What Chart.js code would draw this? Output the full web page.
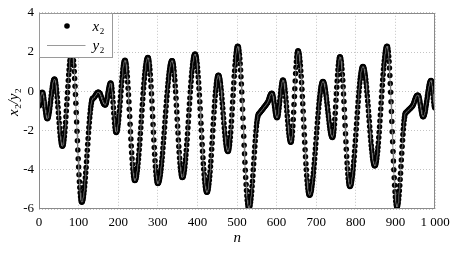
<!DOCTYPE html>
<html><head><meta charset="utf-8">
<script src="https://cdn.jsdelivr.net/npm/chart.js@4"></script>
<style>html,body{margin:0;padding:0;background:#fff}</style>
</head><body><canvas id="c" width="460" height="257"></canvas>
<script>
// x2 samples for n = 0..1000
const x2 = [
-0.75,-0.72,-0.65,-0.53,-0.40,-0.27,-0.15,-0.08,-0.05,
-0.07,-0.13,-0.22,-0.34,-0.49,-0.64,-0.81,-0.96,-1.11,-1.23,-1.32,-1.38,-1.40,
-1.38,-1.34,-1.26,-1.16,-1.04,-0.90,-0.74,-0.57,-0.39,-0.21,-0.04,0.12,0.26,0.38,0.48,0.56,0.60,0.62,
0.60,0.54,0.43,0.29,0.12,-0.08,-0.31,-0.56,-0.82,-1.09,-1.36,-1.62,-1.87,-2.10,-2.30,-2.47,-2.61,-2.70,-2.78,-2.80,
-2.78,-2.72,-2.62,-2.48,-2.30,-2.09,-1.85,-1.59,-1.30,-1.00,-0.69,-0.38,-0.06,0.25,0.55,0.84,1.10,1.34,1.55,1.73,1.87,1.97,2.03,2.05,
2.02,1.93,1.78,1.57,1.31,1.01,0.65,0.26,-0.16,-0.61,-1.08,-1.56,-2.04,-2.52,-2.99,-3.44,-3.86,-4.25,-4.61,-4.91,-5.17,-5.38,-5.53,-5.62,-5.65,
-5.63,-5.58,-5.50,-5.39,-5.24,-5.07,-4.87,-4.65,-4.41,-4.15,-3.88,-3.59,-3.30,-3.00,-2.70,-2.41,-2.12,-1.85,-1.59,-1.35,-1.13,-0.93,-0.76,-0.61,-0.50,-0.42,-0.37,-0.35,
-0.35,-0.34,-0.32,-0.29,-0.27,-0.23,-0.20,-0.17,-0.13,-0.11,-0.08,-0.06,-0.05,-0.05,
-0.06,-0.07,-0.10,-0.13,-0.18,-0.23,-0.29,-0.35,-0.40,-0.46,-0.52,-0.57,-0.62,-0.65,-0.68,-0.69,-0.70,
-0.69,-0.64,-0.58,-0.49,-0.38,-0.26,-0.14,-0.02,0.10,0.21,0.30,0.36,0.41,0.42,
0.39,0.30,0.15,-0.05,-0.29,-0.56,-0.84,-1.12,-1.39,-1.63,-1.83,-1.98,-2.07,-2.10,
-2.08,-2.03,-1.93,-1.81,-1.65,-1.46,-1.25,-1.02,-0.78,-0.52,-0.26,0.00,0.26,0.50,0.73,0.94,1.13,1.29,1.41,1.51,1.56,1.58,
1.56,1.48,1.36,1.20,0.99,0.75,0.47,0.16,-0.18,-0.54,-0.91,-1.29,-1.68,-2.06,-2.43,-2.79,-3.13,-3.44,-3.72,-3.96,-4.17,-4.33,-4.45,-4.53,-4.55,
-4.54,-4.49,-4.42,-4.33,-4.20,-4.05,-3.88,-3.68,-3.47,-3.23,-2.98,-2.72,-2.44,-2.15,-1.86,-1.56,-1.27,-0.97,-0.68,-0.39,-0.11,0.15,0.40,0.64,0.85,1.05,1.22,1.37,1.50,1.59,1.66,1.71,1.72,
1.70,1.62,1.49,1.32,1.11,0.85,0.56,0.23,-0.12,-0.50,-0.89,-1.29,-1.69,-2.09,-2.48,-2.86,-3.21,-3.54,-3.83,-4.09,-4.30,-4.47,-4.60,-4.68,-4.70,
-4.69,-4.65,-4.59,-4.51,-4.41,-4.28,-4.13,-3.97,-3.78,-3.58,-3.37,-3.14,-2.89,-2.64,-2.38,-2.11,-1.84,-1.57,-1.30,-1.03,-0.76,-0.50,-0.25,-0.01,0.23,0.44,0.64,0.83,0.99,1.14,1.27,1.37,1.45,1.51,1.55,1.56,
1.54,1.47,1.37,1.22,1.03,0.81,0.56,0.27,-0.03,-0.36,-0.71,-1.06,-1.42,-1.78,-2.13,-2.48,-2.81,-3.11,-3.40,-3.65,-3.87,-4.06,-4.21,-4.31,-4.38,-4.40,
-4.38,-4.34,-4.26,-4.16,-4.03,-3.87,-3.68,-3.48,-3.25,-3.00,-2.73,-2.46,-2.16,-1.86,-1.56,-1.25,-0.94,-0.64,-0.34,-0.04,0.23,0.50,0.75,0.98,1.18,1.37,1.53,1.66,1.76,1.84,1.88,1.90,
1.88,1.82,1.73,1.60,1.43,1.23,0.99,0.73,0.45,0.14,-0.19,-0.54,-0.89,-1.26,-1.63,-1.99,-2.36,-2.71,-3.06,-3.39,-3.70,-3.98,-4.24,-4.48,-4.68,-4.85,-4.98,-5.07,-5.13,-5.15,
-5.13,-5.08,-4.99,-4.87,-4.72,-4.54,-4.33,-4.10,-3.84,-3.56,-3.27,-2.96,-2.65,-2.33,-2.00,-1.68,-1.37,-1.06,-0.77,-0.49,-0.23,0.00,0.21,0.39,0.54,0.66,0.75,0.80,0.82,
0.80,0.75,0.67,0.56,0.42,0.25,0.06,-0.15,-0.38,-0.62,-0.87,-1.13,-1.38,-1.63,-1.87,-2.10,-2.31,-2.50,-2.67,-2.81,-2.92,-3.00,-3.05,-3.07,
-3.05,-2.99,-2.88,-2.74,-2.56,-2.34,-2.10,-1.82,-1.53,-1.21,-0.89,-0.55,-0.22,0.12,0.44,0.76,1.05,1.33,1.57,1.79,1.97,2.11,2.22,2.28,2.30,
2.27,2.20,2.07,1.89,1.67,1.40,1.09,0.74,0.37,-0.04,-0.47,-0.91,-1.37,-1.83,-2.29,-2.75,-3.19,-3.62,-4.03,-4.40,-4.75,-5.06,-5.33,-5.55,-5.73,-5.86,-5.93,-5.96,
-5.94,-5.88,-5.79,-5.66,-5.50,-5.31,-5.09,-4.84,-4.58,-4.30,-4.00,-3.71,-3.40,-3.10,-2.81,-2.53,-2.27,-2.02,-1.80,-1.61,-1.45,-1.32,-1.23,-1.17,-1.15,
-1.13,-1.11,-1.08,-1.06,-1.03,-1.01,-0.98,-0.95,-0.93,-0.90,-0.88,-0.85,-0.82,-0.80,-0.77,-0.75,-0.72,-0.69,-0.67,-0.64,-0.61,-0.58,-0.55,
-0.50,-0.44,-0.38,-0.31,-0.25,-0.20,-0.16,-0.13,-0.11,-0.10,
-0.12,-0.17,-0.26,-0.37,-0.50,-0.65,-0.80,-0.95,-1.08,-1.19,-1.28,-1.33,-1.35,
-1.33,-1.27,-1.17,-1.03,-0.87,-0.69,-0.49,-0.29,-0.09,0.09,0.25,0.39,0.49,0.55,0.57,
0.55,0.49,0.40,0.27,0.11,-0.08,-0.30,-0.53,-0.77,-1.02,-1.26,-1.50,-1.73,-1.95,-2.14,-2.30,-2.43,-2.52,-2.58,-2.60,
-2.56,-2.46,-2.29,-2.05,-1.77,-1.44,-1.07,-0.67,-0.27,0.13,0.53,0.90,1.23,1.51,1.75,1.92,2.02,2.06,
2.04,1.97,1.87,1.72,1.53,1.31,1.05,0.76,0.45,0.10,-0.26,-0.64,-1.02,-1.42,-1.82,-2.22,-2.60,-2.98,-3.34,-3.69,-4.00,-4.29,-4.55,-4.77,-4.96,-5.11,-5.21,-5.28,-5.30,
-5.29,-5.25,-5.19,-5.10,-5.00,-4.87,-4.71,-4.54,-4.35,-4.15,-3.93,-3.69,-3.45,-3.19,-2.93,-2.67,-2.40,-2.13,-1.87,-1.61,-1.35,-1.11,-0.87,-0.65,-0.45,-0.26,-0.09,0.07,0.20,0.30,0.39,0.45,0.49,0.50,
0.49,0.45,0.39,0.31,0.21,0.08,-0.06,-0.21,-0.38,-0.56,-0.74,-0.93,-1.11,-1.29,-1.47,-1.64,-1.79,-1.93,-2.06,-2.16,-2.24,-2.30,-2.34,-2.35,
-2.32,-2.24,-2.10,-1.92,-1.69,-1.42,-1.12,-0.80,-0.46,-0.13,0.21,0.53,0.83,1.10,1.33,1.51,1.65,1.73,1.76,
1.73,1.66,1.53,1.35,1.13,0.86,0.56,0.23,-0.14,-0.52,-0.93,-1.34,-1.75,-2.16,-2.57,-2.95,-3.32,-3.65,-3.95,-4.22,-4.44,-4.62,-4.75,-4.82,-4.85,
-4.84,-4.79,-4.73,-4.63,-4.51,-4.36,-4.20,-4.01,-3.80,-3.57,-3.32,-3.06,-2.79,-2.51,-2.23,-1.94,-1.65,-1.36,-1.08,-0.80,-0.53,-0.27,-0.02,0.21,0.42,0.61,0.77,0.92,1.04,1.14,1.21,1.25,1.26,
1.25,1.20,1.14,1.04,0.92,0.78,0.61,0.42,0.22,-0.01,-0.24,-0.49,-0.74,-1.01,-1.27,-1.53,-1.80,-2.05,-2.30,-2.54,-2.76,-2.96,-3.15,-3.32,-3.46,-3.58,-3.68,-3.74,-3.79,-3.80,
-3.78,-3.74,-3.66,-3.55,-3.42,-3.25,-3.06,-2.85,-2.62,-2.36,-2.09,-1.81,-1.51,-1.21,-0.90,-0.60,-0.29,0.01,0.31,0.59,0.86,1.12,1.35,1.56,1.75,1.92,2.05,2.16,2.24,2.28,2.30,
2.27,2.17,2.01,1.79,1.52,1.19,0.81,0.40,-0.05,-0.53,-1.03,-1.54,-2.06,-2.57,-3.07,-3.55,-4.00,-4.41,-4.79,-5.12,-5.39,-5.61,-5.77,-5.87,-5.90,
-5.88,-5.80,-5.68,-5.52,-5.31,-5.07,-4.80,-4.50,-4.18,-3.84,-3.50,-3.16,-2.82,-2.50,-2.20,-1.93,-1.69,-1.48,-1.32,-1.20,-1.12,-1.10,
-1.08,-1.06,-1.04,-1.02,-1.00,-0.98,-0.96,-0.94,-0.92,-0.90,-0.88,-0.86,-0.84,-0.82,-0.80,-0.77,-0.75,-0.72,
-0.68,-0.63,-0.57,-0.51,-0.45,-0.39,-0.34,-0.29,-0.25,-0.22,-0.21,-0.20,-0.20,
-0.22,-0.26,-0.34,-0.44,-0.55,-0.68,-0.82,-0.95,-1.06,-1.16,-1.24,-1.28,-1.30,
-1.29,-1.25,-1.20,-1.12,-1.03,-0.92,-0.79,-0.66,-0.52,-0.38,-0.23,-0.09,0.04,0.17,0.28,0.37,0.45,0.50,0.54,0.55,
0.52,0.42,0.26,0.07,-0.15,-0.37,-0.56,-0.72,-0.82,-0.85
];
// y2 follows x2 (synchronised response), drawn as a thin line
const y2 = x2;
// sample index n
const nValues = x2.map((_, i) => i);
const xTickValues = [0, 100, 200, 300, 400, 500, 600, 700, 800, 900, 1000];
const xTickLabels = ['0', '100', '200', '300', '400', '500', '600', '700', '800', '900', '1 000'];
const yTickValues = [-6, -4, -2, 0, 2, 4];
const yTickLabels = ['-6', '-4', '-2', '0', '2', '4'];

const SERIF = '"Liberation Serif", "Times New Roman", serif';
const toPoints = arr => arr.map((v, i) => ({x: nValues[i], y: v}));

function drawSub(ctx, main, sub, x, y, size) {
  ctx.font = 'italic ' + size + 'px ' + SERIF;
  ctx.fillText(main, x, y);
  const w = ctx.measureText(main).width;
  ctx.font = Math.round(size * 0.62) + 'px ' + SERIF;
  ctx.fillText(sub, x + w + 0.5, y + size * 0.22);
  return w + 0.5 + ctx.measureText(sub).width;
}

const decor = {
  id: 'decor',
  afterDatasetsDraw(chart) {
    const {ctx, chartArea: a} = chart;
    ctx.save();
    // frame
    ctx.strokeStyle = '#8a8a8a';
    ctx.lineWidth = 1;
    ctx.strokeRect(Math.round(a.left) + 0.5, Math.round(a.top) + 0.5, Math.round(a.right - a.left) - 1, Math.round(a.bottom - a.top) - 1);
    // legend box
    const lx = Math.round(a.left) + 0.5, ly = Math.round(a.top) + 0.5;
    ctx.fillStyle = '#fff';
    ctx.fillRect(lx, ly, 73, 44);
    ctx.strokeStyle = '#9a9a9a';
    ctx.strokeRect(lx, ly, 73, 44);
    ctx.fillStyle = '#000';
    ctx.beginPath();
    ctx.arc(lx + 27.5, ly + 12.5, 2.8, 0, Math.PI * 2);
    ctx.fill();
    ctx.strokeStyle = '#808080';
    ctx.lineWidth = 0.8;
    ctx.beginPath();
    ctx.moveTo(lx + 7.5, ly + 32);
    ctx.lineTo(lx + 46, ly + 32);
    ctx.stroke();
    ctx.fillStyle = '#000';
    ctx.textBaseline = 'alphabetic';
    ctx.textAlign = 'left';
    drawSub(ctx, 'x', '2', lx + 53, ly + 17, 15);
    drawSub(ctx, 'y', '2', lx + 53, ly + 36, 15);
    ctx.restore();
  },
  afterDraw(chart) {
    const {ctx, chartArea: a} = chart;
    ctx.save();
    ctx.fillStyle = '#000';
    ctx.textBaseline = 'alphabetic';
    ctx.textAlign = 'left';
    // x title
    ctx.font = 'italic 15px ' + SERIF;
    const cx = (a.left + a.right) / 2;
    ctx.fillText('n', cx - 3.5, 242);
    // y title, rotated
    ctx.translate(18, 100);
    ctx.rotate(-Math.PI / 2);
    let x = -16;
    x += drawSub(ctx, 'x', '2', x, 0, 15);
    ctx.font = 'italic 15px ' + SERIF;
    ctx.fillText('/', x, 0);
    x += ctx.measureText('/').width;
    drawSub(ctx, 'y', '2', x, 0, 15);
    ctx.restore();
  }
};

new Chart(document.getElementById('c'), {
  type: 'scatter',
  data: {
    datasets: [
      {label: 'x2', data: toPoints(x2), backgroundColor: '#000', borderColor: '#000',
       pointRadius: 2.75, pointBorderWidth: 0, order: 1},
      {label: 'y2', type: 'line', data: toPoints(y2), borderColor: '#7a7a7a', borderWidth: 0.8,
       pointRadius: 0, fill: false, tension: 0, order: 0}
    ]
  },
  options: {
    responsive: false, animation: false, events: [],
    layout: {padding: {left: 0, right: 25, top: 8, bottom: 0}},
    plugins: {legend: {display: false}, tooltip: {enabled: false}},
    scales: {
      x: {
        type: 'linear', min: 0, max: 1000,
        afterBuildTicks: s => { s.ticks = xTickValues.map(v => ({value: v})); },
        afterFit: s => { s.height = 48; },
        ticks: {callback: (v, i) => xTickLabels[i], font: {family: SERIF, size: 13}, color: '#000',
                padding: 6, maxRotation: 0, autoSkip: false},
        grid: {color: '#c4c4c4', lineWidth: 1, drawTicks: false},
        border: {display: false, dash: [1, 2]}
      },
      y: {
        type: 'linear', min: -6, max: 4,
        afterBuildTicks: s => { s.ticks = yTickValues.map(v => ({value: v})); },
        afterFit: s => { s.width = 39; },
        ticks: {callback: (v, i) => yTickLabels[i], font: {family: SERIF, size: 13}, color: '#000',
                padding: 5, autoSkip: false},
        grid: {color: '#c4c4c4', lineWidth: 1, drawTicks: false},
        border: {display: false, dash: [1, 2]}
      }
    }
  },
  plugins: [decor]
});
</script>
</body></html>
